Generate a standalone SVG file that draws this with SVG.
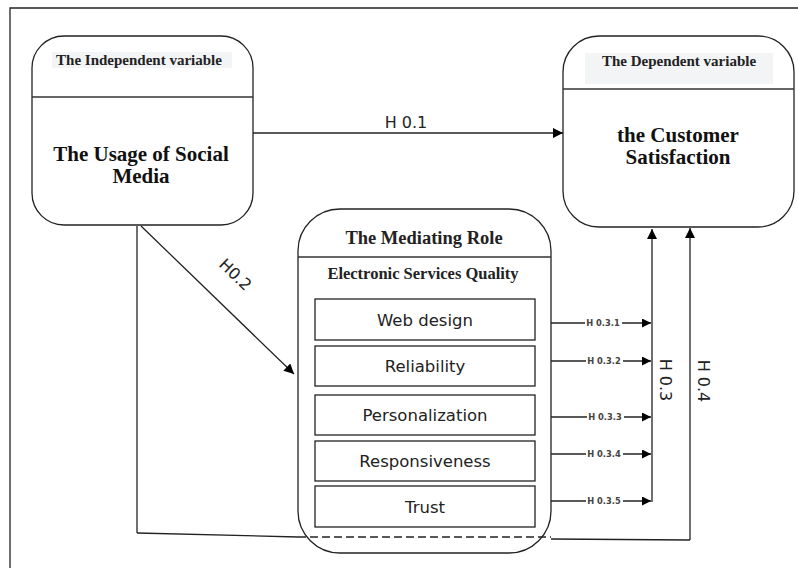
<svg xmlns="http://www.w3.org/2000/svg" width="798" height="568" viewBox="0 0 798 568">
<defs>
<marker id="ah" viewBox="0 0 10 10" refX="10" refY="5" markerWidth="10" markerHeight="10" markerUnits="userSpaceOnUse" orient="auto">
<path d="M0,0 L10,5 L0,10 z" fill="#000"/>
</marker>
<marker id="ahs" viewBox="0 0 10 10" refX="10" refY="5" markerWidth="9" markerHeight="9" markerUnits="userSpaceOnUse" orient="auto">
<path d="M0,0 L10,5 L0,10 z" fill="#000"/>
</marker>
</defs>
<style>
.node{fill:#fff;stroke:#222;stroke-width:1.3}
.div{stroke:#333;stroke-width:1.3}
.hdr{font-family:"Liberation Serif",serif;font-weight:bold;fill:#222}
.main{font-family:"Liberation Serif",serif;font-weight:bold;font-size:21px;fill:#111;text-anchor:middle}
.box{fill:#fff;stroke:#222;stroke-width:1.3}
.bl{font-family:"DejaVu Sans",sans-serif;font-size:16.5px;fill:#222;text-anchor:middle}
.ln{stroke:#222;stroke-width:1.3;fill:none}
.hl{font-family:"DejaVu Sans",sans-serif;font-size:16px;fill:#222;text-anchor:middle}
.sl{font-family:"DejaVu Sans",sans-serif;font-size:8.3px;font-weight:bold;fill:#444;text-anchor:middle}
</style>
<rect width="798" height="568" fill="#fff"/>
<path d="M10,568 L10,8 L798,8" class="ln"/>

<g id="independent">
<rect x="32" y="36" width="221" height="189" rx="32" class="node"/>
<rect x="52" y="52" width="180" height="16" fill="#f3f4f6"/>
<line x1="32" y1="97" x2="253" y2="97" class="div"/>
<text x="139" y="65" class="hdr" font-size="15" text-anchor="middle">The Independent variable</text>
<text x="141" y="161" class="main">The Usage of Social</text>
<text x="141" y="183" class="main">Media</text>
</g>

<g id="dependent">
<rect x="563" y="36" width="231" height="191" rx="36" class="node"/>
<rect x="585" y="53" width="188" height="31" fill="#f3f4f6"/>
<line x1="563" y1="89" x2="794" y2="89" class="div"/>
<text x="679" y="66" class="hdr" font-size="15" text-anchor="middle">The Dependent variable</text>
<text x="678" y="142" class="main">the Customer</text>
<text x="678" y="164" class="main">Satisfaction</text>
</g>

<g id="mediating">
<rect x="298" y="209" width="253" height="344" rx="42" class="node"/>
<line x1="298" y1="257" x2="551" y2="257" class="div"/>
<text x="424" y="244" class="hdr" font-size="18.5" text-anchor="middle">The Mediating Role</text>
<text x="423" y="279" class="hdr" font-size="16.5" text-anchor="middle">Electronic Services Quality</text>
</g>

<g id="webdesign"><rect x="315" y="299" width="220" height="41" class="box"/><text x="425" y="326" class="bl">Web design</text></g>
<g id="reliability"><rect x="315" y="346" width="220" height="40" class="box"/><text x="425" y="372" class="bl">Reliability</text></g>
<g id="personalization"><rect x="315" y="395" width="220" height="40" class="box"/><text x="425" y="421" class="bl">Personalization</text></g>
<g id="responsiveness"><rect x="315" y="441" width="220" height="40" class="box"/><text x="425" y="467" class="bl">Responsiveness</text></g>
<g id="trust"><rect x="315" y="486" width="220" height="41" class="box"/><text x="425" y="513" class="bl">Trust</text></g>

<g id="connectors">
<line x1="253" y1="133" x2="563" y2="133" class="ln" marker-end="url(#ah)"/>
<text x="406" y="128" class="hl">H 0.1</text>

<line x1="141" y1="226" x2="294" y2="374" class="ln" marker-end="url(#ah)"/>
<text x="0" y="0" class="hl" transform="translate(235,275) rotate(44) translate(0,5)">H0.2</text>

<line x1="137" y1="226" x2="137" y2="533" class="ln"/>
<line x1="137" y1="533" x2="298" y2="537" class="ln"/>
<line x1="298" y1="537" x2="551" y2="537" class="ln" stroke-dasharray="8,4"/>
<line x1="551" y1="539" x2="690" y2="540" class="ln"/>
<line x1="690" y1="540" x2="690" y2="228" class="ln" marker-end="url(#ah)"/>
<text x="0" y="0" class="hl" transform="translate(703,381) rotate(90) translate(0,5)">H 0.4</text>

<line x1="652" y1="502" x2="652" y2="229" class="ln" marker-end="url(#ah)"/>
<text x="0" y="0" class="hl" transform="translate(665,380) rotate(90) translate(0,5)">H 0.3</text>

<line x1="551" y1="323" x2="651" y2="323" class="ln" marker-end="url(#ahs)"/>
<line x1="551" y1="361" x2="651" y2="361" class="ln" marker-end="url(#ahs)"/>
<line x1="551" y1="417" x2="651" y2="417" class="ln" marker-end="url(#ahs)"/>
<line x1="551" y1="454" x2="651" y2="454" class="ln" marker-end="url(#ahs)"/>
<line x1="551" y1="501" x2="651" y2="501" class="ln" marker-end="url(#ahs)"/>
<g fill="#fff">
<rect x="585" y="318" width="37" height="10"/>
<rect x="586" y="356" width="37" height="10"/>
<rect x="587" y="412" width="37" height="10"/>
<rect x="586" y="449" width="37" height="10"/>
<rect x="586" y="496" width="37" height="10"/>
</g>
<text x="603" y="326" class="sl">H 0.3.1</text>
<text x="604" y="364" class="sl">H 0.3.2</text>
<text x="605" y="420" class="sl">H 0.3.3</text>
<text x="604" y="457" class="sl">H 0.3.4</text>
<text x="604" y="504" class="sl">H 0.3.5</text>
</g>
</svg>
